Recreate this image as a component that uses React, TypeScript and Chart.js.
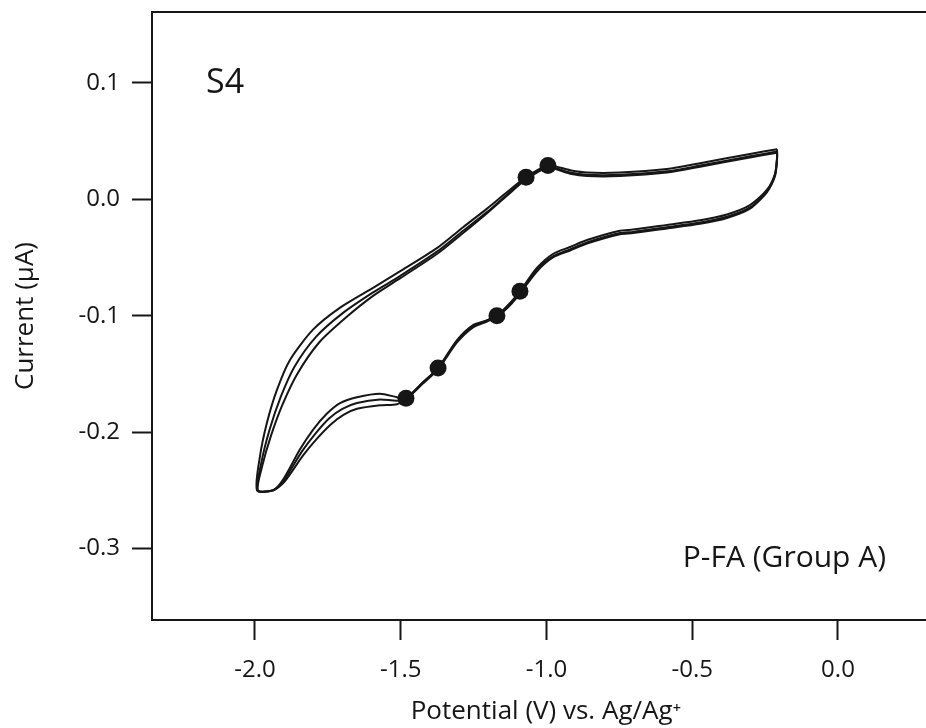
import React, { useEffect, useRef } from "react";
import { Chart, registerables } from "chart.js";

Chart.register(...registerables);

// Axis ticks
const xTicks = [-2.0, -1.5, -1.0, -0.5, 0.0];
const yTicks = [0.1, 0.0, -0.1, -0.2, -0.3];

// Cycle 1 (outer trace)
const cycle1Potential = [
  -0.209, -0.302, -0.473, -0.587, -0.748, -0.861, -0.919, -0.995, -1.07, -1.136,
  -1.204, -1.286, -1.376, -1.503, -1.595, -1.708, -1.801, -1.88, -1.925, -1.959,
  -1.983, -1.993, -1.938, -1.904, -1.846, -1.801, -1.753, -1.708, -1.65, -1.571,
  -1.513, -1.482, -1.427, -1.372, -1.307, -1.252, -1.204, -1.17, -1.125, -1.091,
  -1.033, -0.978, -0.919, -0.861, -0.748, -0.703, -0.587, -0.473, -0.381, -0.302,
  -0.244, -0.216, -0.209, -0.209,
];
const cycle1Current = [
  0.043, 0.039, 0.031, 0.026, 0.023, 0.023, 0.025, 0.029, 0.019, 0.006,
  -0.008, -0.024, -0.042, -0.062, -0.076, -0.093, -0.112, -0.138, -0.164, -0.192,
  -0.221, -0.25, -0.25, -0.241, -0.215, -0.198, -0.184, -0.175, -0.17, -0.167,
  -0.17, -0.171, -0.158, -0.145, -0.121, -0.108, -0.104, -0.1, -0.089, -0.079,
  -0.059, -0.047, -0.041, -0.035, -0.027, -0.026, -0.022, -0.018, -0.013, -0.005,
  0.008, 0.022, 0.036, 0.043,
];

// Cycle 2
const cycle2Potential = [
  -0.209, -0.302, -0.473, -0.587, -0.748, -0.861, -0.919, -0.995, -1.07, -1.136,
  -1.204, -1.286, -1.376, -1.503, -1.595, -1.7, -1.79, -1.865, -1.912, -1.95,
  -1.978, -1.991, -1.938, -1.902, -1.84, -1.792, -1.745, -1.7, -1.65, -1.571,
  -1.513, -1.482, -1.427, -1.372, -1.307, -1.252, -1.204, -1.17, -1.125, -1.091,
  -1.033, -0.978, -0.919, -0.861, -0.748, -0.703, -0.587, -0.473, -0.381, -0.302,
  -0.244, -0.216, -0.209, -0.209,
];
const cycle2Current = [
  0.041, 0.037, 0.029, 0.024, 0.021, 0.021, 0.023, 0.028, 0.018, 0.004,
  -0.011, -0.027, -0.045, -0.066, -0.08, -0.098, -0.118, -0.144, -0.17, -0.198,
  -0.226, -0.25, -0.25, -0.242, -0.217, -0.201, -0.188, -0.18, -0.175, -0.172,
  -0.173, -0.171, -0.158, -0.145, -0.122, -0.109, -0.104, -0.1, -0.09, -0.08,
  -0.06, -0.049, -0.043, -0.037, -0.029, -0.028, -0.024, -0.02, -0.015, -0.007,
  0.007, 0.021, 0.035, 0.041,
];

// Cycle 3
const cycle3Potential = [
  -0.209, -0.302, -0.473, -0.587, -0.748, -0.861, -0.919, -0.995, -1.07, -1.136,
  -1.204, -1.286, -1.376, -1.503, -1.595, -1.69, -1.78, -1.855, -1.905, -1.945,
  -1.975, -1.99, -1.938, -1.9, -1.835, -1.785, -1.738, -1.695, -1.65, -1.571,
  -1.513, -1.482, -1.427, -1.372, -1.307, -1.252, -1.204, -1.17, -1.125, -1.091,
  -1.033, -0.978, -0.919, -0.861, -0.748, -0.703, -0.587, -0.473, -0.381, -0.302,
  -0.244, -0.216, -0.209, -0.209,
];
const cycle3Current = [
  0.04, 0.036, 0.028, 0.023, 0.02, 0.02, 0.022, 0.027, 0.017, 0.003,
  -0.012, -0.029, -0.047, -0.068, -0.083, -0.102, -0.123, -0.15, -0.176, -0.203,
  -0.229, -0.25, -0.25, -0.243, -0.22, -0.205, -0.193, -0.185, -0.18, -0.177,
  -0.176, -0.172, -0.159, -0.146, -0.123, -0.11, -0.105, -0.101, -0.091, -0.081,
  -0.062, -0.05, -0.044, -0.038, -0.03, -0.029, -0.025, -0.021, -0.016, -0.008,
  0.006, 0.02, 0.034, 0.04,
];

// Marked points
const markerPotential = [-0.995, -1.07, -1.091, -1.17, -1.372, -1.482];
const markerCurrent = [0.029, 0.019, -0.079, -0.1, -0.145, -0.171];

// Text labels
const sampleLabel = "S4";
const groupLabel = "P-FA (Group A)";

const FONT = "'Open Sans', 'Noto Sans', sans-serif";
const INK = "#161616";
const X_MIN = -2.3533;
const X_MAX = 0.35;

const toPoints = (xs: number[], ys: number[]) => xs.map((x, i) => ({ x, y: ys[i] }));

const zeroPadding = (s: any) => {
  s.paddingTop = 0;
  s.paddingBottom = 0;
  s.paddingLeft = 0;
  s.paddingRight = 0;
};

const labelPlugin = {
  id: "labels",
  afterDraw(chart: any) {
    const { ctx, scales } = chart;
    const xs = scales.x;
    const ys = scales.y;
    ctx.save();
    ctx.fillStyle = INK;
    ctx.textBaseline = "alphabetic";
    ctx.font = `34px ${FONT}`;
    ctx.textAlign = "left";
    ctx.fillText(sampleLabel, xs.getPixelForValue(-2.168), ys.getPixelForValue(0.0913));
    ctx.font = `30px ${FONT}`;
    ctx.textAlign = "right";
    ctx.fillText(groupLabel, xs.getPixelForValue(0.165), ys.getPixelForValue(-0.3159));
    ctx.restore();
  },
};

export default function App() {
  const ref = useRef<HTMLCanvasElement>(null);

  useEffect(() => {
    if (!ref.current) return;
    Chart.defaults.font.family = FONT;
    const lineStyle = {
      showLine: true,
      borderColor: INK,
      borderWidth: 2,
      pointRadius: 0,
      tension: 0.25,
      fill: false,
    };
    const tickGrid = {
      display: true,
      drawOnChartArea: false,
      drawTicks: true,
      tickLength: 20,
      tickWidth: 2,
      tickColor: INK,
    };
    const chart = new Chart(ref.current, {
      type: "scatter",
      data: {
        datasets: [
          { label: "cycle 1", data: toPoints(cycle1Potential, cycle1Current), ...lineStyle },
          { label: "cycle 2", data: toPoints(cycle2Potential, cycle2Current), ...lineStyle },
          { label: "cycle 3", data: toPoints(cycle3Potential, cycle3Current), ...lineStyle },
          {
            label: "markers",
            data: toPoints(markerPotential, markerCurrent),
            showLine: false,
            pointRadius: 8.5,
            pointBackgroundColor: INK,
            pointBorderColor: INK,
            pointBorderWidth: 0,
          },
        ],
      },
      options: {
        animation: false,
        responsive: false,
        maintainAspectRatio: false,
        devicePixelRatio: 1,
        layout: { padding: 0, autoPadding: false },
        plugins: { legend: { display: false }, tooltip: { enabled: false } },
        scales: {
          x: {
            type: "linear",
            position: "bottom",
            min: X_MIN,
            max: X_MAX,
            afterBuildTicks: (s: any) => {
              s.ticks = xTicks.map((v) => ({ value: v }));
            },
            afterFit: (s: any) => {
              s.height = 108;
              zeroPadding(s);
            },
            grid: tickGrid,
            border: { display: true, color: INK, width: 2 },
            ticks: {
              padding: 16,
              color: INK,
              font: { size: 24 },
              maxRotation: 0,
              autoSkip: false,
              callback: (v: any) => Number(v).toFixed(1),
            },
            title: {
              display: true,
              text: "Potential (V) vs. Ag/Ag\u207A",
              color: INK,
              font: { size: 26 },
              padding: { top: 0, bottom: 1 },
            },
          },
          x2: {
            type: "linear",
            position: "top",
            min: X_MIN,
            max: X_MAX,
            display: true,
            afterFit: (s: any) => {
              s.height = 12;
              zeroPadding(s);
            },
            grid: { display: false, drawTicks: false },
            ticks: { display: false },
            border: { display: true, color: INK, width: 2 },
          },
          y: {
            type: "linear",
            position: "left",
            min: -0.3614,
            max: 0.1609,
            afterBuildTicks: (s: any) => {
              s.ticks = yTicks.map((v) => ({ value: v }));
            },
            afterFit: (s: any) => {
              s.width = 152;
              zeroPadding(s);
            },
            grid: tickGrid,
            border: { display: true, color: INK, width: 2 },
            ticks: {
              padding: 12,
              color: INK,
              font: { size: 24 },
              autoSkip: false,
              callback: (v: any) => Number(v).toFixed(1),
            },
            title: {
              display: true,
              text: "Current (\u03BCA)",
              color: INK,
              font: { size: 26 },
              padding: { top: 10, bottom: 0 },
            },
          },
        },
      },
      plugins: [labelPlugin],
    } as any);
    return () => chart.destroy();
  }, []);

  return (
    <div
      style={{
        position: "fixed",
        left: 0,
        top: 0,
        width: 926,
        height: 728,
        overflow: "hidden",
        background: "#fff",
      }}
    >
      <canvas ref={ref} width={940} height={728} style={{ display: "block", width: 940, height: 728 }} />
    </div>
  );
}
